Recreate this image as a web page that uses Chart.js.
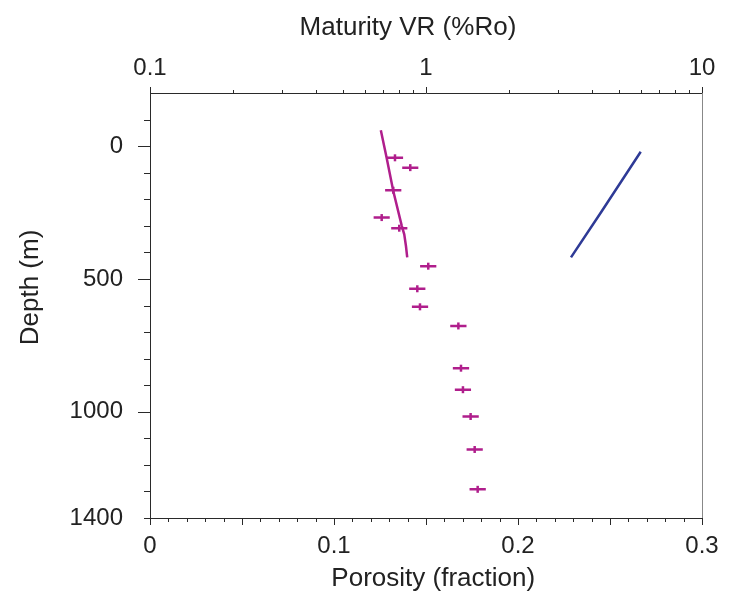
<!DOCTYPE html>
<html>
<head>
<meta charset="utf-8">
<script src="https://cdn.jsdelivr.net/npm/chart.js@4.4.1/dist/chart.umd.min.js"></script>
<style>
  html, body { margin: 0; padding: 0; background: #fff; }
  #wrap { width: 740px; height: 601px; }
</style>
</head>
<body>
<div id="wrap"><canvas id="chart" width="740" height="601"></canvas></div>
<script>
// ─── Data ────────────────────────────────────────────────────────────────────
// Modelled vitrinite reflectance (top log axis) against depth.
const vrModelDepth = [-60, 44, 169, 300, 332, 376, 419];
const vrModelValue = [0.686, 0.720, 0.761, 0.817, 0.834, 0.846, 0.855];

// Measured VR samples with their horizontal error range.
const vrSampleDepth = [44, 81, 166, 269, 309, 452, 537, 605, 677, 836, 917, 1018, 1142, 1292];
const vrSampleValue = [0.772, 0.877, 0.761, 0.691, 0.800, 1.019, 0.930, 0.951, 1.310, 1.339, 1.361, 1.451, 1.501, 1.539];
const vrSampleLow = [0.722, 0.820, 0.711, 0.646, 0.748, 0.952, 0.869, 0.889, 1.224, 1.251, 1.272, 1.356, 1.403, 1.438];
const vrSampleHigh = [0.826, 0.938, 0.814, 0.739, 0.856, 1.090, 0.995, 1.018, 1.402, 1.433, 1.456, 1.553, 1.606, 1.647];

// Modelled porosity (bottom axis) against depth.
const porosityDepth = [21, 245, 419];
const porosityValue = [0.2667, 0.2455, 0.2288];

// Labelled ticks on each axis.
const depthTickLabels = [0, 500, 1000, 1400];
const porosityTickLabels = [0, 0.1, 0.2, 0.3];
const maturityTickLabels = [0.1, 1, 10];

const MAGENTA = "#b01e8c";
const BLUE = "#2e3a96";
const AXIS = "#2a2a2a";
const TEXT = "#222";
const FONT = "'Liberation Sans', Arial, sans-serif";

Chart.defaults.font.family = FONT;
Chart.defaults.color = TEXT;

const toPoints = (xs, ys) => xs.map((x, i) => ({ x, y: ys[i] }));

// Each error bar is its own little segment; a null point breaks the line.
function errorSegments() {
  const out = [];
  vrSampleDepth.forEach((d, i) => {
    out.push({ x: vrSampleLow[i], y: d }, { x: vrSampleHigh[i], y: d }, { x: null, y: null });
  });
  return out;
}

// ─── Minor tick marks + right frame (Chart.js has one tick length per axis) ──
const tickMarks = {
  id: "tickMarks",
  afterDraw(chart) {
    const { ctx, chartArea: a, scales } = chart;
    ctx.save();
    ctx.strokeStyle = AXIS;
    ctx.lineWidth = 1;

    const seg = (x1, y1, x2, y2) => {
      ctx.beginPath();
      ctx.moveTo(x1, y1);
      ctx.lineTo(x2, y2);
      ctx.stroke();
    };

    // left: every 100 m, longer at the labelled 500s
    for (let d = -100; d <= 1400; d += 100) {
      const y = Math.round(scales.y.getPixelForValue(d)) + 0.5;
      const len = d % 500 === 0 && d !== 1400 ? 12 : 6;
      seg(a.left - len, y, a.left, y);
    }

    // bottom: every 0.01, longer at each 0.05
    for (let k = 0; k <= 30; k++) {
      const x = Math.round(scales.x.getPixelForValue(k / 100)) + 0.5;
      const len = k % 5 === 0 ? 7 : 4;
      seg(x, a.bottom, x, a.bottom + len);
    }

    // top: log decades plus 2..9
    for (let dec = 0.1; dec < 11; dec *= 10) {
      for (let m = 1; m <= 9; m++) {
        const v = dec * m;
        if (v > 10.0001) break;
        const x = Math.round(scales.xTop.getPixelForValue(v)) + 0.5;
        const len = m === 1 ? 6 : 3;
        seg(x, a.top, x, a.top - len);
      }
    }

    // right-hand frame line
    ctx.strokeStyle = "#888";
    seg(Math.round(a.right) + 0.5, a.top, Math.round(a.right) + 0.5, a.bottom);
    ctx.restore();
  },
};

const tickFont = { family: FONT, size: 24 };
const titleFont = { family: FONT, size: 26 };
const noGrid = { display: false, drawTicks: false, tickLength: 0 };

// The original titles sit a little off-centre; padding spaces nudge them.
new Chart(document.getElementById("chart"), {
  type: "scatter",
  data: {
    datasets: [
      {
        data: toPoints(vrModelValue, vrModelDepth),
        xAxisID: "xTop",
        yAxisID: "y",
        showLine: true,
        borderColor: MAGENTA,
        borderWidth: 2.5,
        pointRadius: 0,
      },
      {
        data: errorSegments(),
        xAxisID: "xTop",
        yAxisID: "y",
        showLine: true,
        spanGaps: false,
        borderColor: MAGENTA,
        borderWidth: 2.5,
        pointRadius: 0,
      },
      {
        data: toPoints(vrSampleValue, vrSampleDepth),
        xAxisID: "xTop",
        yAxisID: "y",
        pointStyle: "line",
        rotation: 90,
        pointRadius: 3.5,
        borderColor: MAGENTA,
        backgroundColor: MAGENTA,
        borderWidth: 2.5,
      },
      {
        data: toPoints(porosityValue, porosityDepth),
        xAxisID: "x",
        yAxisID: "y",
        showLine: true,
        borderColor: BLUE,
        borderWidth: 2.5,
        pointRadius: 0,
      },
    ],
  },
  options: {
    responsive: false,
    animation: false,
    devicePixelRatio: 1,
    layout: { padding: { left: 0, right: 38, top: 0, bottom: 0 } },
    plugins: { legend: { display: false }, tooltip: { enabled: false } },
    scales: {
      y: {
        type: "linear",
        position: "left",
        reverse: true,
        min: -200,
        max: 1400,
        afterBuildTicks: (s) => { s.ticks = depthTickLabels.map((value) => ({ value })); },
        afterFit: (s) => { s.width = 150; },
        grid: noGrid,
        border: { display: true, color: AXIS, width: 1 },
        ticks: { font: tickFont, color: TEXT, padding: 27, callback: (v) => String(v) },
        title: { display: true, text: "     Depth (m)", font: titleFont, color: TEXT, padding: { top: 15, bottom: 0 } },
      },
      x: {
        type: "linear",
        position: "bottom",
        min: 0,
        max: 0.3,
        afterBuildTicks: (s) => { s.ticks = porosityTickLabels.map((value) => ({ value })); },
        afterFit: (s) => { s.height = 83; },
        grid: noGrid,
        border: { display: true, color: AXIS, width: 1 },
        ticks: { font: tickFont, color: TEXT, padding: 14, maxRotation: 0, callback: (v) => String(v) },
        title: { display: true, text: "  Porosity (fraction)", font: titleFont, color: TEXT, padding: { top: 0, bottom: 7 } },
      },
      xTop: {
        type: "logarithmic",
        position: "top",
        min: 0.1,
        max: 10,
        afterBuildTicks: (s) => { s.ticks = maturityTickLabels.map((value) => ({ value })); },
        afterFit: (s) => { s.height = 93; },
        grid: noGrid,
        border: { display: true, color: AXIS, width: 1 },
        ticks: { font: tickFont, color: TEXT, padding: 10, maxRotation: 0, callback: (v) => String(v) },
        title: { display: true, text: "Maturity VR (%Ro)     ", font: titleFont, color: TEXT, padding: { top: 12, bottom: 0 } },
      },
    },
  },
  plugins: [tickMarks],
});
</script>
</body>
</html>
